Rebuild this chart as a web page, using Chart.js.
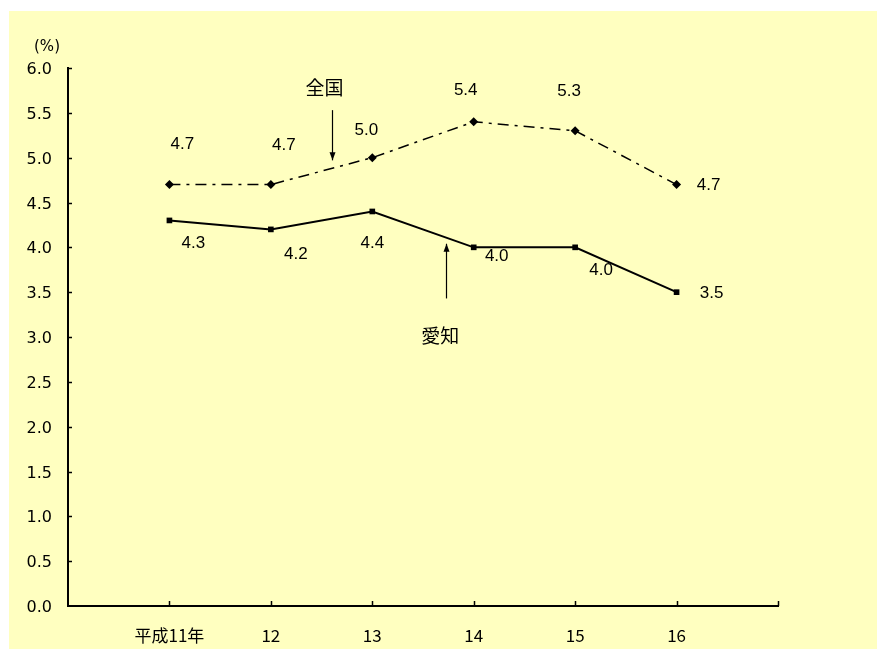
<!DOCTYPE html>
<html>
<head>
<meta charset="utf-8">
<script src="https://cdn.jsdelivr.net/npm/chart.js@4"></script>
<style>
  html, body { margin: 0; padding: 0; background: #ffffff; }
  #wrap { position: absolute; left: 9px; top: 11px; width: 868px; height: 638px; background: #ffffc0; }
</style>
</head>
<body>
<div id="wrap"><canvas id="rateChart" width="868" height="638"></canvas></div>
<script>
// 年次ラベル
const years = ['平成11年', '12', '13', '14', '15', '16'];
const yearValues = [11, 12, 13, 14, 15, 16];
// 全国
const zenkoku = [4.7, 4.7, 5.0, 5.4, 5.3, 4.7];
// 愛知
const aichi = [4.3, 4.2, 4.4, 4.0, 4.0, 3.5];
const yTicks = [0, 0.5, 1, 1.5, 2, 2.5, 3, 3.5, 4, 4.5, 5, 5.5, 6];

const FONT_JP = '"Noto Sans CJK JP", sans-serif';
const FONT_NUM = '"DejaVu Sans", sans-serif';
const FONT_LBL = '"Liberation Sans", Arial, sans-serif';

// ラベル位置の調整 (px)
const zenkokuLabelOffset = [[13, -40], [13, -39], [-6, -27], [-8, -31], [-6, -39], [32, 1]];
const aichiLabelOffset = [[24, 23], [25, 25], [0, 32], [23, 9], [26, 23], [35, 1]];

const labelPlugin = {
    id: 'labelPlugin',
    afterDraw(chart) {
        const ctx = chart.ctx;
        const xs = chart.scales.x;
        const ys = chart.scales.y;
        ctx.save();
        ctx.fillStyle = '#000';
        ctx.strokeStyle = '#000';

        // 内向きの目盛り
        ctx.lineWidth = 1.5;
        yTicks.forEach(v => {
            if (v === 0) return;
            const py = Math.round(ys.getPixelForValue(v)) + 0.5;
            ctx.beginPath();
            ctx.moveTo(xs.left, py);
            ctx.lineTo(xs.left + 4, py);
            ctx.stroke();
        });
        yearValues.concat([17]).forEach(v => {
            const px = Math.round(xs.getPixelForValue(v)) + 0.5;
            ctx.beginPath();
            ctx.moveTo(px, ys.bottom);
            ctx.lineTo(px, ys.bottom - 5);
            ctx.stroke();
        });

        // 値ラベル
        ctx.font = '17px ' + FONT_LBL;
        ctx.textAlign = 'center';
        ctx.textBaseline = 'middle';
        const meta0 = chart.getDatasetMeta(0);
        meta0.data.forEach((pt, i) => {
            const o = zenkokuLabelOffset[i];
            ctx.fillText(zenkoku[i].toFixed(1), pt.x + o[0], pt.y + o[1]);
        });
        const meta1 = chart.getDatasetMeta(1);
        meta1.data.forEach((pt, i) => {
            const o = aichiLabelOffset[i];
            ctx.fillText(aichi[i].toFixed(1), pt.x + o[0], pt.y + o[1]);
        });

        // 単位
        ctx.font = '15px ' + FONT_NUM;
        ctx.fillText('(%)', xs.left - 21, ys.top - 21);

        // 注記と矢印
        ctx.font = '19px ' + FONT_JP;
        ctx.fillText('全国', xs.getPixelForValue(12.53), ys.getPixelForValue(5.78));
        ctx.fillText('愛知', xs.getPixelForValue(13.67), ys.getPixelForValue(3.01));
        drawArrow(ctx, xs.getPixelForValue(12.6), ys.getPixelForValue(5.53), ys.getPixelForValue(4.97));
        drawArrow(ctx, xs.getPixelForValue(13.73), ys.getPixelForValue(3.43), ys.getPixelForValue(4.04));
        ctx.restore();
    }
};

function drawArrow(ctx, x, yFrom, yTo) {
    x = Math.round(x) + 0.5;
    const dir = yTo > yFrom ? 1 : -1;
    ctx.lineWidth = 1.2;
    ctx.beginPath();
    ctx.moveTo(x, yFrom);
    ctx.lineTo(x, yTo);
    ctx.stroke();
    ctx.beginPath();
    ctx.moveTo(x, yTo);
    ctx.lineTo(x - 3, yTo - dir * 8);
    ctx.lineTo(x + 3, yTo - dir * 8);
    ctx.closePath();
    ctx.fill();
}

const ctxEl = document.getElementById('rateChart');
new Chart(ctxEl, {
    type: 'line',
    data: {
        datasets: [{
            label: '全国',
            data: zenkoku.map((v, i) => ({x: yearValues[i], y: v})),
            borderColor: '#000',
            borderWidth: 1.5,
            borderDash: [11, 6, 3, 6],
            pointStyle: 'rectRot',
            pointRadius: 4.5,
            pointBackgroundColor: '#000',
            pointBorderColor: '#000',
            pointBorderWidth: 0,
            tension: 0,
            fill: false
        }, {
            label: '愛知',
            data: aichi.map((v, i) => ({x: yearValues[i], y: v})),
            borderColor: '#000',
            borderWidth: 2,
            pointStyle: 'rect',
            pointRadius: 4,
            pointBackgroundColor: '#000',
            pointBorderColor: '#000',
            pointBorderWidth: 0,
            tension: 0,
            fill: false
        }]
    },
    options: {
        responsive: false,
        animation: false,
        layout: {
            padding: {top: 57, right: 99, left: 0, bottom: 0}
        },
        plugins: {
            legend: {display: false},
            tooltip: {enabled: false}
        },
        scales: {
            x: {
                type: 'linear',
                min: 10,
                max: 17,
                grid: {display: false, drawTicks: false},
                border: {display: true, color: '#000', width: 2},
                afterFit: function (scale) { scale.height = 43; },
                afterBuildTicks: function (scale) {
                    scale.ticks = yearValues.map(v => ({value: v}));
                },
                ticks: {
                    padding: 19,
                    color: '#000',
                    font: {size: 17, family: FONT_JP},
                    maxRotation: 0,
                    autoSkip: false,
                    callback: function (value) {
                        const i = yearValues.indexOf(value);
                        return i >= 0 ? years[i] : '';
                    }
                }
            },
            y: {
                min: 0,
                max: 6,
                grid: {display: false, drawTicks: false},
                border: {display: true, color: '#000', width: 2},
                afterFit: function (scale) { scale.width = 59; },
                afterBuildTicks: function (scale) {
                    scale.ticks = yTicks.map(v => ({value: v}));
                },
                ticks: {
                    padding: 16,
                    labelOffset: 2,
                    color: '#000',
                    font: {size: 16, family: FONT_NUM},
                    callback: function (value) { return Number(value).toFixed(1); }
                }
            }
        }
    },
    plugins: [labelPlugin]
});
</script>
</body>
</html>
